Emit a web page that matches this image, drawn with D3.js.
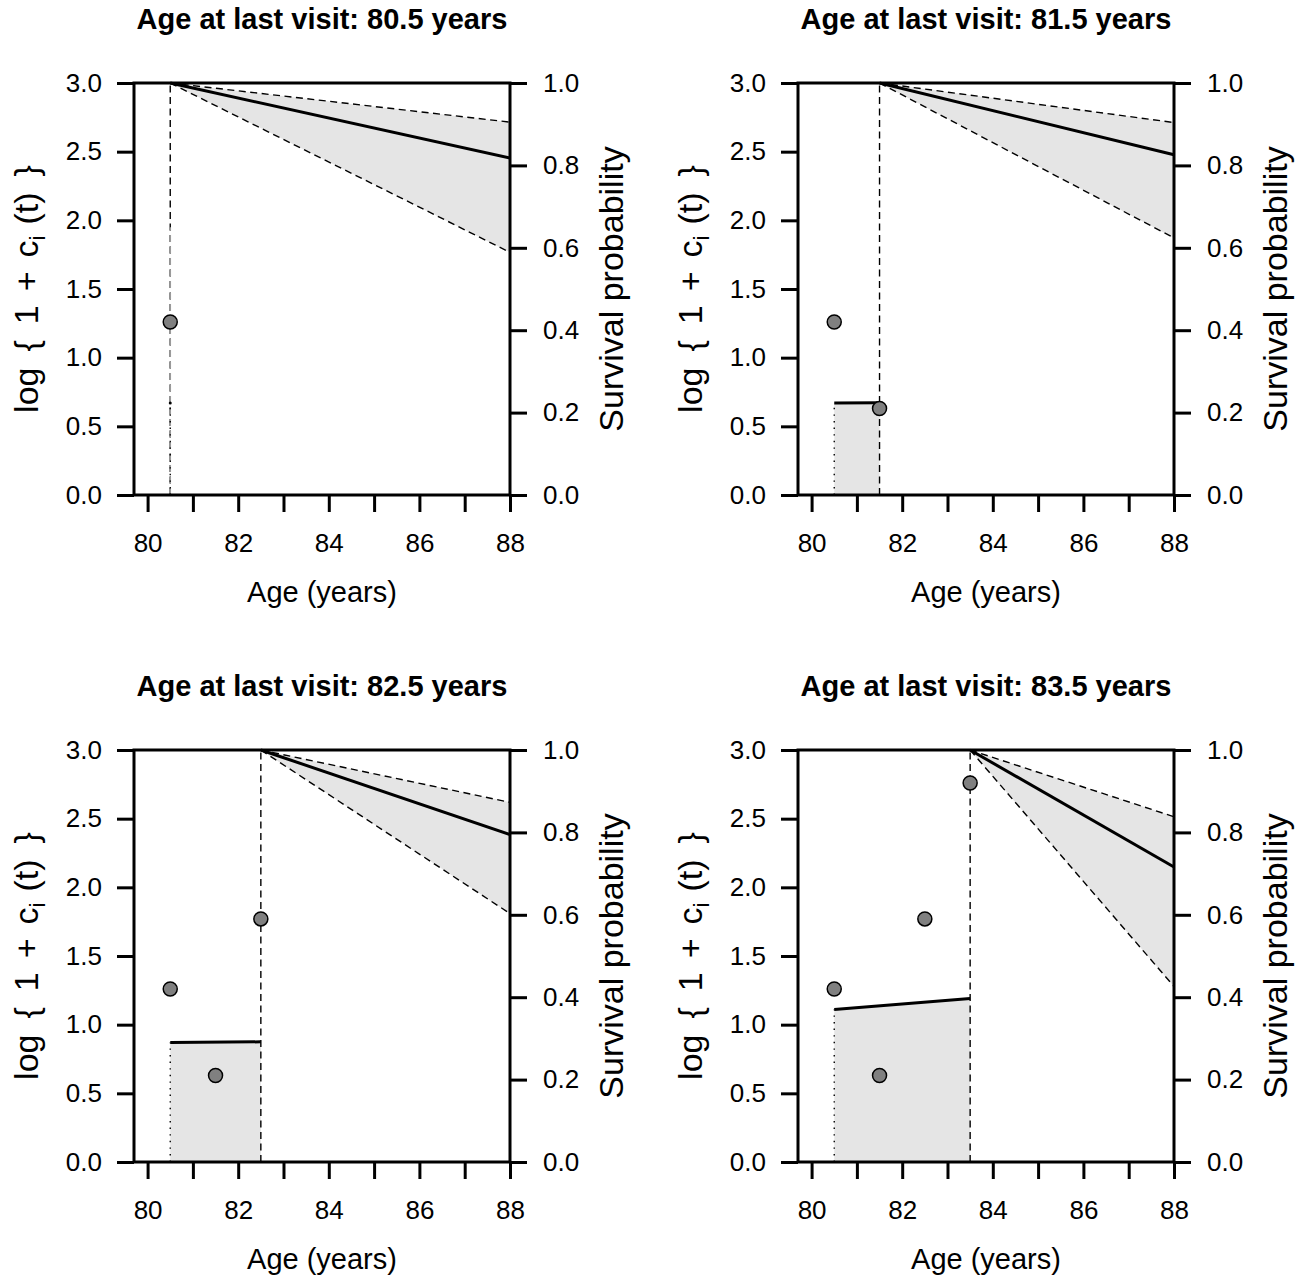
<!DOCTYPE html>
<html>
<head>
<meta charset="utf-8">
<script src="https://cdn.jsdelivr.net/npm/d3@7"></script>
<style>
  body { margin: 0; background: #fff; }
  svg text { font-family: "Liberation Sans", Arial, Helvetica, sans-serif; fill: #000; }
</style>
</head>
<body>
<div id="chart"></div>
<script>
// ages at last visit, one per panel
const lastVisit = [80.5, 81.5, 82.5, 83.5];
// observed log{1 + c_i(t)} at each visit
const visitAges = [80.5, 81.5, 82.5, 83.5];
const visitValues = [1.26, 0.63, 1.77, 2.76];
// fitted trajectory at first visit and at last visit
const fitFirst = [0.67, 0.67, 0.87, 1.11];
const fitLast = [0.67, 0.672, 0.875, 1.19];
// predicted survival at age 88 (estimate, upper, lower)
const survEnd = [0.818, 0.826, 0.795, 0.716];
const survUpper = [0.905, 0.904, 0.873, 0.838];
const survLower = [0.589, 0.624, 0.603, 0.426];
// axis ticks
const xTicks = [80, 81, 82, 83, 84, 85, 86, 87, 88];
const xLabels = [80, 82, 84, 86, 88];
const yTicks = [0, 0.5, 1, 1.5, 2, 2.5, 3];
const sTicks = [0, 0.2, 0.4, 0.6, 0.8, 1];

const W = 1298, H = 1279;
const box = {left: 134, right: 510, top: 83, bottom: 495};
const step = {x: 664, y: 667};
const tickLen = 17;

const svg = d3.select("#chart").append("svg")
    .attr("width", W).attr("height", H);

const xScale = d3.scaleLinear().domain([79.7, 88]).range([box.left, box.right]);
const yScale = d3.scaleLinear().domain([0, 3]).range([box.bottom, box.top]);
const sScale = d3.scaleLinear().domain([0, 1]).range([box.bottom, box.top]);

const line = d3.line().x(d => xScale(d[0])).y(d => yScale(d[1]));
const sLine = d3.line().x(d => xScale(d[0])).y(d => sScale(d[1]));

lastVisit.forEach((t, i) => {
    const col = i % 2, row = Math.floor(i / 2);
    const g = svg.append("g")
        .attr("transform", "translate(" + (col * step.x) + "," + (row * step.y) + ")");

    // shaded area under the fitted trajectory
    g.append("path")
        .attr("d", d3.area()
            .x(d => xScale(d[0])).y0(yScale(0)).y1(d => yScale(d[1]))
            ([[80.5, fitFirst[i]], [t, fitLast[i]]]))
        .attr("fill", "#e5e5e5");

    // survival confidence band
    g.append("path")
        .attr("d", d3.area()
            .x(d => xScale(d[0])).y0(d => sScale(d[1])).y1(d => sScale(d[2]))
            ([[t, 1, 1], [88, survUpper[i], survLower[i]]]))
        .attr("fill", "#e5e5e5");

    // dashed line at last visit
    g.append("line")
        .attr("x1", xScale(t)).attr("x2", xScale(t))
        .attr("y1", yScale(0)).attr("y2", yScale(3))
        .attr("stroke", "#000").attr("stroke-width", 1.4)
        .attr("stroke-dasharray", "7,4.5");

    // when first and last visit coincide the lower part shows grey
    if (t === 80.5) {
        g.append("line")
            .attr("x1", xScale(t)).attr("x2", xScale(t))
            .attr("y1", yScale(0)).attr("y2", yScale(1.95))
            .attr("stroke", "#9a9a9a").attr("stroke-width", 1.6)
            .attr("stroke-dasharray", "7,4.5");
    }

    // dotted line at first visit
    g.append("line")
        .attr("x1", xScale(80.5)).attr("x2", xScale(80.5))
        .attr("y1", yScale(0)).attr("y2", yScale(fitFirst[i]))
        .attr("stroke", "#000").attr("stroke-width", 1.4)
        .attr("stroke-dasharray", "1.4,5.2");

    // fitted trajectory
    g.append("path")
        .attr("d", line([[80.5, fitFirst[i]], [t, fitLast[i]]]))
        .attr("fill", "none").attr("stroke", "#000").attr("stroke-width", 3)
        .attr("stroke-linecap", t === 80.5 ? "round" : "butt");

    // survival curve and limits
    [survUpper[i], survLower[i]].forEach(v => {
        g.append("path")
            .attr("d", sLine([[t, 1], [88, v]]))
            .attr("fill", "none").attr("stroke", "#000").attr("stroke-width", 1.4)
            .attr("stroke-dasharray", "7,4.5");
    });
    g.append("path")
        .attr("d", sLine([[t, 1], [88, survEnd[i]]]))
        .attr("fill", "none").attr("stroke", "#000").attr("stroke-width", 3);

    // plot box
    g.append("rect")
        .attr("x", box.left).attr("y", box.top)
        .attr("width", box.right - box.left).attr("height", box.bottom - box.top)
        .attr("fill", "none").attr("stroke", "#000").attr("stroke-width", 3);

    // observed values up to last visit
    g.selectAll(".dot")
        .data(visitAges.filter(a => a <= t))
        .join("circle")
        .attr("class", "dot")
        .attr("cx", a => xScale(a))
        .attr("cy", a => yScale(visitValues[visitAges.indexOf(a)]))
        .attr("r", 7)
        .attr("fill", "#808080").attr("stroke", "#000").attr("stroke-width", 1.5);

    // left axis
    const yAxisG = g.append("g").attr("transform", "translate(" + box.left + ",0)")
        .call(d3.axisLeft(yScale).tickValues(yTicks).tickFormat(d3.format(".1f"))
            .tickSize(tickLen).tickPadding(15));
    // right axis
    const sAxisG = g.append("g").attr("transform", "translate(" + box.right + ",0)")
        .call(d3.axisRight(sScale).tickValues(sTicks).tickFormat(d3.format(".1f"))
            .tickSize(tickLen).tickPadding(16));
    // bottom axis
    const xAxisG = g.append("g").attr("transform", "translate(0," + box.bottom + ")")
        .call(d3.axisBottom(xScale).tickValues(xTicks)
            .tickFormat(d => xLabels.includes(d) ? d : "")
            .tickSize(tickLen).tickPadding(22));

    [yAxisG, sAxisG, xAxisG].forEach(ax => {
        ax.select(".domain").remove();
        ax.selectAll(".tick line").attr("stroke", "#000").attr("stroke-width", 3);
        ax.selectAll(".tick text")
            .style("font-family", "'Liberation Sans', Arial, sans-serif")
            .style("font-size", "26px").attr("fill", "#000");
    });

    // title
    g.append("text")
        .attr("x", (box.left + box.right) / 2).attr("y", 29)
        .attr("text-anchor", "middle")
        .style("font-size", "29px").style("font-weight", "bold")
        .text("Age at last visit: " + t.toFixed(1) + " years");

    // x title
    g.append("text")
        .attr("x", (box.left + box.right) / 2).attr("y", 602)
        .attr("text-anchor", "middle")
        .style("font-size", "29px")
        .text("Age (years)");

    // left y title, spaced like plotmath
    const yMid = (box.top + box.bottom) / 2;
    const lt = g.append("text")
        .attr("transform", "translate(38," + yMid + ") rotate(-90)")
        .attr("text-anchor", "middle")
        .style("font-size", "34px");
    lt.append("tspan").text("log");
    lt.append("tspan").attr("dx", 16).text("{");
    lt.append("tspan").attr("dx", 16).text("1");
    lt.append("tspan").attr("dx", 14).text("+");
    lt.append("tspan").attr("dx", 14).text("c");
    lt.append("tspan").attr("dy", 7).style("font-size", "22px").text("i");
    lt.append("tspan").attr("dy", -7).attr("dx", 11).text("(t)");
    lt.append("tspan").attr("dx", 16).text("}");

    // right y title
    g.append("text")
        .attr("transform", "translate(623," + yMid + ") rotate(-90)")
        .attr("text-anchor", "middle")
        .style("font-size", "34px")
        .text("Survival probability");
});
</script>
</body>
</html>
